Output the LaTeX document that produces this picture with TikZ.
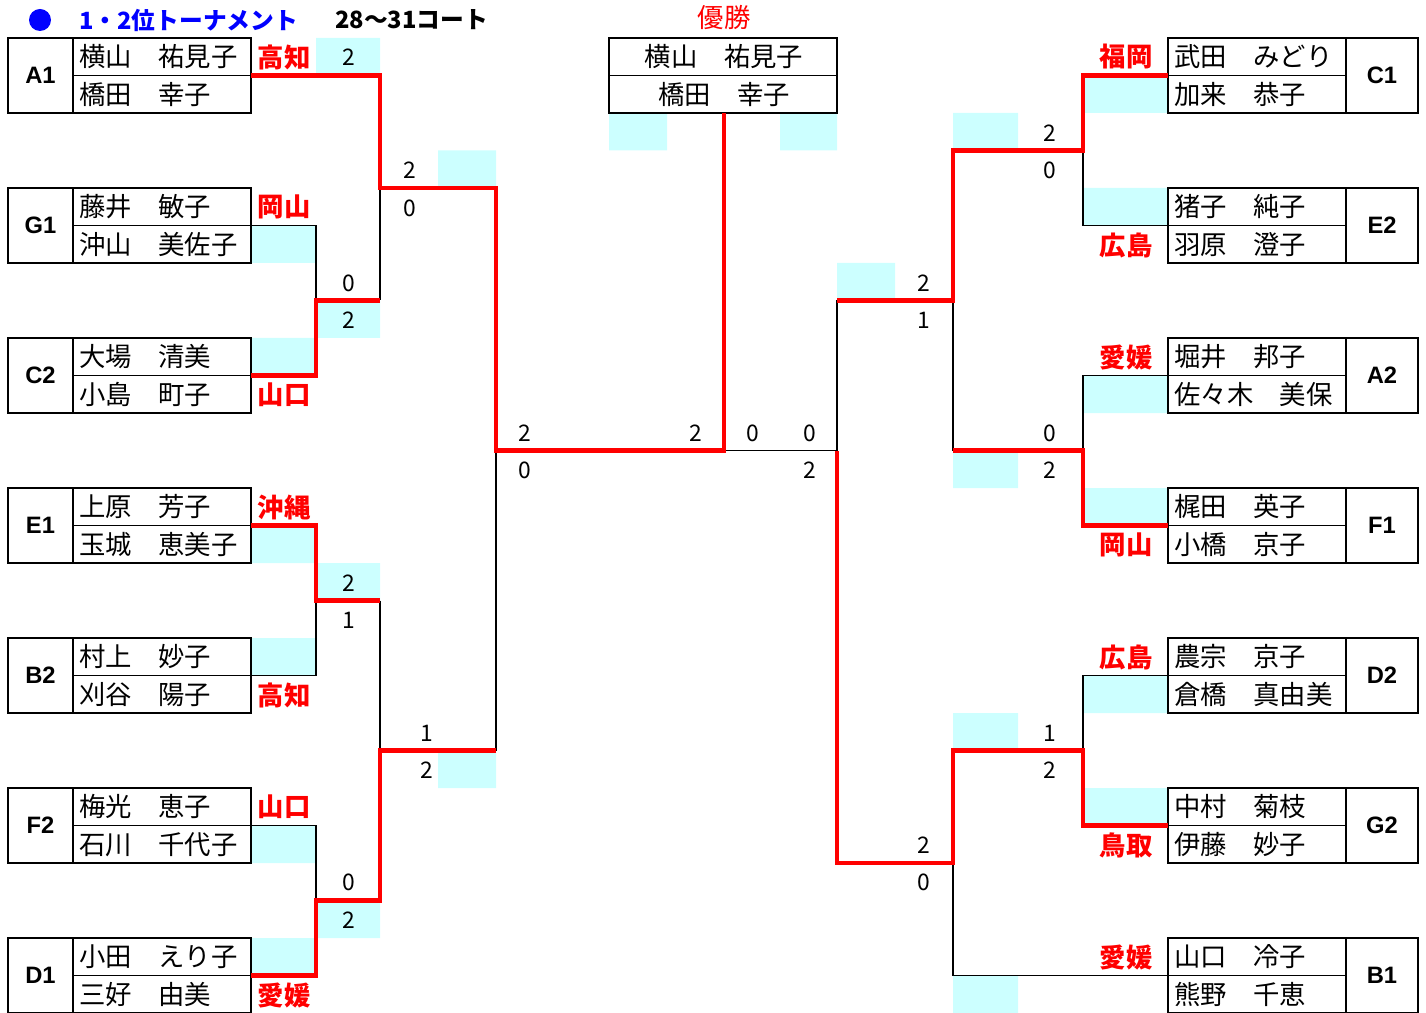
\documentclass[tikz,border=0pt]{standalone}
\usepackage{fontspec}
\setmainfont{Noto Sans CJK JP}
\newfontfamily\seedfont{Liberation Sans}
\definecolor{cellcyan}{HTML}{CCFFFF}
\definecolor{winred}{HTML}{FF0000}
\definecolor{titleblue}{HTML}{0000FF}
\tikzset{
  box/.style={draw=black,line width=0.8pt},
  win/.style={draw=winred,line width=2.3pt},
  cell/.style={fill=cellcyan},
  player/.style={font=\fontsize{15}{17}\selectfont,anchor=west,inner sep=0pt},
  seed/.style={font=\seedfont\bfseries\fontsize{13.5}{16}\selectfont,inner sep=0pt},
  pref/.style={font=\bfseries\fontsize{15}{17}\selectfont,text=winred,inner sep=0pt},
  score/.style={font=\fontsize{13}{15}\selectfont,inner sep=0pt},
  heading/.style={font=\bfseries\fontsize{13.5}{16}\selectfont,anchor=west,inner sep=0pt}
}
% Team block on the left: seed, then the two players
\newcommand{\leftteam}[4]{
  \draw[box] (8,#1) rectangle (251,#1+75);
  \draw[box] (73,#1) -- (73,#1+75)
             (73,#1+37.5) -- (251,#1+37.5);
  \node[seed] (#2) at (40.5,#1+37.5) {#2};
  \node[player] (#2a) at (79,#1+18.75) {#3};
  \node[player] (#2b) at (79,#1+56.25) {#4};
}
% Team block on the right: the two players, then seed
\newcommand{\rightteam}[4]{
  \draw[box] (1168,#1) rectangle (1418,#1+75);
  \draw[box] (1346,#1) -- (1346,#1+75)
             (1168,#1+37.5) -- (1346,#1+37.5);
  \node[seed] (#2) at (1382,#1+37.5) {#2};
  \node[player] (#2a) at (1174,#1+18.75) {#3};
  \node[player] (#2b) at (1174,#1+56.25) {#4};
}

\begin{document}
\begin{tikzpicture}[x=0.02cm,y=-0.02cm]
    \useasboundingbox (0,0) rectangle (1426,1013);

    % Score cells, left half
    \fill[cell] (316,38) rectangle (380,75.5)
                (251,225.5) rectangle (316,263)
                (316,300.5) rectangle (380,338)
                (251,338) rectangle (316,375.5)
                (438,150.5) rectangle (496,188)
                (251,525.5) rectangle (316,563)
                (316,563) rectangle (380,600.5)
                (251,638) rectangle (316,675.5)
                (251,825.5) rectangle (316,863)
                (316,900.5) rectangle (380,938)
                (251,938) rectangle (316,975.5)
                (438,750.5) rectangle (496,788);
    % Score cells, centre
    \fill[cell] (609,113) rectangle (667,150.5)
                (780,113) rectangle (837,150.5);
    % Score cells, right half
    \fill[cell] (1083,75.5) rectangle (1168,113)
                (953,113) rectangle (1018,150.5)
                (1083,188) rectangle (1168,225.5)
                (837,263) rectangle (895,300.5)
                (1083,375.5) rectangle (1168,413)
                (953,450.5) rectangle (1018,488)
                (1083,488) rectangle (1168,525.5)
                (1083,675.5) rectangle (1168,713)
                (953,713) rectangle (1018,750.5)
                (1083,788) rectangle (1168,825.5)
                (953,975.5) rectangle (1018,1013);

    % Heading
    \fill[titleblue] (40,20) circle (11);
    \node[heading,text=titleblue] (title) at (79,20) {1・2位トーナメント};
    \node[heading] (court) at (335,20) {28〜31コート};

    % Left teams
    \leftteam{38}{A1}{横山　祐見子}{橋田　幸子}
    \leftteam{188}{G1}{藤井　敏子}{沖山　美佐子}
    \leftteam{338}{C2}{大場　清美}{小島　町子}
    \leftteam{488}{E1}{上原　芳子}{玉城　恵美子}
    \leftteam{638}{B2}{村上　妙子}{刈谷　陽子}
    \leftteam{788}{F2}{梅光　恵子}{石川　千代子}
    \leftteam{938}{D1}{小田　えり子}{三好　由美}

    % Right teams
    \rightteam{38}{C1}{武田　みどり}{加来　恭子}
    \rightteam{188}{E2}{猪子　純子}{羽原　澄子}
    \rightteam{338}{A2}{堀井　邦子}{佐々木　美保}
    \rightteam{488}{F1}{梶田　英子}{小橋　京子}
    \rightteam{638}{D2}{農宗　京子}{倉橋　真由美}
    \rightteam{788}{G2}{中村　菊枝}{伊藤　妙子}
    \rightteam{938}{B1}{山口　冷子}{熊野　千恵}

    % Champion
    \node[font=\fontsize{15}{17}\selectfont,text=winred,inner sep=0pt] (yusho) at (724,18) {優勝};
    \draw[box] (609,38) rectangle (837,113)
               (609,75.5) -- (837,75.5);
    \node[player,anchor=center] (champa) at (724,56.75) {横山　祐見子};
    \node[player,anchor=center] (champb) at (724,94.25) {橋田　幸子};

    % Losing lines
    \draw[box] (251,225.5) -- (316,225.5) -- (316,300.5);
    \draw[box] (380,188) -- (380,300.5);
    \draw[box] (251,675.5) -- (316,675.5) -- (316,600.5);
    \draw[box] (380,600.5) -- (380,750.5);
    \draw[box] (251,825.5) -- (316,825.5) -- (316,900.5);
    \draw[box] (496,450.5) -- (496,750.5);
    \draw[box] (724,450.5) -- (837,450.5);
    \draw[box] (837,300.5) -- (837,450.5);
    \draw[box] (1168,225.5) -- (1083,225.5) -- (1083,150.5);
    \draw[box] (953,300.5) -- (953,450.5);
    \draw[box] (1168,375.5) -- (1083,375.5) -- (1083,450.5);
    \draw[box] (1168,675.5) -- (1083,675.5) -- (1083,750.5);
    \draw[box] (1168,975.5) -- (953,975.5) -- (953,863);

    % Winning lines
    \draw[win] (251,75.5) -- (380,75.5) -- (380,188) -- (496,188)
               -- (496,450.5) -- (724,450.5) -- (724,113);
    \draw[win] (251,375.5) -- (316,375.5) -- (316,300.5) -- (380,300.5);
    \draw[win] (251,525.5) -- (316,525.5) -- (316,600.5) -- (380,600.5);
    \draw[win] (251,975.5) -- (316,975.5) -- (316,900.5) -- (380,900.5)
               -- (380,750.5) -- (496,750.5);
    \draw[win] (1168,75.5) -- (1083,75.5) -- (1083,150.5) -- (953,150.5)
               -- (953,300.5) -- (837,300.5);
    \draw[win] (1168,525.5) -- (1083,525.5) -- (1083,450.5) -- (953,450.5);
    \draw[win] (1168,825.5) -- (1083,825.5) -- (1083,750.5) -- (953,750.5)
               -- (953,863) -- (837,863) -- (837,450.5);

    % Prefectures
    \node[pref] (pA1) at (284,57) {高知};
    \node[pref] (pG1) at (284,207) {岡山};
    \node[pref] (pC2) at (284,395) {山口};
    \node[pref] (pE1) at (284,507) {沖縄};
    \node[pref] (pB2) at (284,695) {高知};
    \node[pref] (pF2) at (284,807) {山口};
    \node[pref] (pD1) at (284,995) {愛媛};
    \node[pref] (pC1) at (1126,57) {福岡};
    \node[pref] (pE2) at (1126,245) {広島};
    \node[pref] (pA2) at (1126,357) {愛媛};
    \node[pref] (pF1) at (1126,545) {岡山};
    \node[pref] (pD2) at (1126,657) {広島};
    \node[pref] (pG2) at (1126,845) {鳥取};
    \node[pref] (pB1) at (1126,957) {愛媛};

    % Scores, left half
    \node[score] (s1) at (349,57) {2};
    \node[score] (s2) at (410,170) {2};
    \node[score] (s3) at (410,208) {0};
    \node[score] (s4) at (349,283) {0};
    \node[score] (s5) at (349,320) {2};
    \node[score] (s6) at (349,583) {2};
    \node[score] (s7) at (349,620) {1};
    \node[score] (s8) at (427,733) {1};
    \node[score] (s9) at (427,770) {2};
    \node[score] (s10) at (349,882) {0};
    \node[score] (s11) at (349,920) {2};
    \node[score] (s12) at (525,433) {2};
    \node[score] (s13) at (525,470) {0};
    \node[score] (s14) at (696,433) {2};
    % Scores, right half
    \node[score] (s15) at (753,433) {0};
    \node[score] (s16) at (810,433) {0};
    \node[score] (s17) at (810,470) {2};
    \node[score] (s18) at (1050,133) {2};
    \node[score] (s19) at (1050,170) {0};
    \node[score] (s20) at (924,283) {2};
    \node[score] (s21) at (924,320) {1};
    \node[score] (s22) at (1050,433) {0};
    \node[score] (s23) at (1050,470) {2};
    \node[score] (s24) at (1050,733) {1};
    \node[score] (s25) at (1050,770) {2};
    \node[score] (s26) at (924,845) {2};
    \node[score] (s27) at (924,882) {0};
\end{tikzpicture}
\end{document}
